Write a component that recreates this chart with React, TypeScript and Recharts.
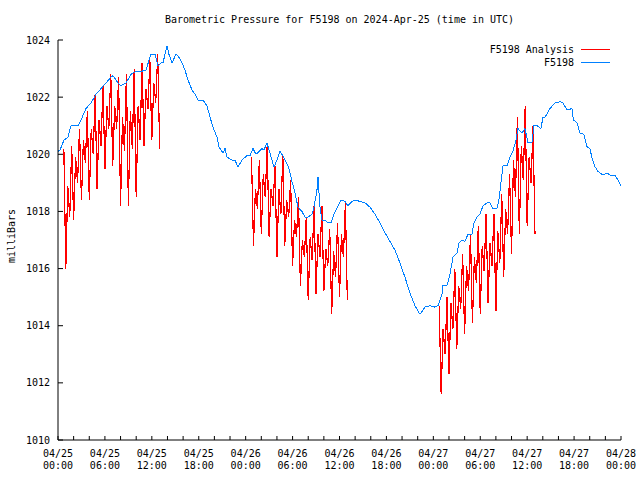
import { LineChart, Line, XAxis, YAxis } from 'recharts';

const FONT = '"DejaVu Sans Mono", monospace';
const RED = '#ff0000';
const BLUE = '#0080ff';

// hours since 04/25 00:00 UTC
const blueHours = [
  0, 0.26, 0.77, 1.28, 1.66, 2.56, 2.94, 3.58, 4.22, 4.86, 5.5, 6.14, 6.78, 7.03, 7.67, 8.06, 8.7,
  9.34, 9.97, 10.61, 11.25, 11.89, 12.4, 12.79, 13.17, 13.43, 13.94, 14.19, 14.58, 15.09, 15.35,
  15.86, 16.24, 16.62, 17.14, 17.52, 17.9, 18.54, 19.05, 19.44, 19.82, 20.33, 20.59, 21.1, 21.36,
  21.61, 22.25, 22.63, 23.02, 23.53, 24.17, 24.55, 24.94, 25.32, 25.7, 26.09, 26.34, 26.73, 26.98,
  27.37, 27.62, 28.01, 28.39, 28.64, 29.03, 29.41, 29.67, 29.92, 30.31, 30.69, 31.2, 31.59, 31.97,
  32.48, 32.74, 33.12, 33.25, 33.5, 33.76, 34.14, 34.53, 34.91, 35.29, 35.81, 36.19, 36.7, 37.08,
  37.6, 37.98, 39.26, 39.9, 40.54, 41.18, 41.82, 43.09, 43.73, 44.37, 45.01, 45.65, 46.29, 46.93,
  47.57, 48.21, 48.59, 49.1, 49.23, 49.74, 50.13, 50.51, 51.02, 51.28, 51.66, 52.05, 52.43, 52.94,
  53.2, 53.58, 53.96, 54.35, 54.86, 55.24, 55.63, 56.14, 56.39, 56.65, 56.91, 57.42, 57.8, 58.18,
  58.57, 58.82, 59.34, 59.72, 60.1, 60.61, 60.87, 61.25, 61.76, 62.02, 62.28, 62.92, 63.55, 64.19,
  64.58, 65.09, 65.73, 65.92, 66.37, 66.75, 67.26, 67.65, 68.03, 68.29, 68.67, 69.05, 69.69, 70.2,
  70.59, 71.23, 71.61, 72,
];
const blueMbar = [
  1020.1, 1020.15, 1020.5, 1020.6, 1021.0, 1021.0, 1021.2, 1021.6, 1021.8, 1022.1, 1022.3, 1022.5,
  1022.7, 1022.75, 1022.5, 1022.4, 1022.5, 1022.8, 1022.9, 1022.9, 1022.95, 1023.5, 1023.5, 1023.1,
  1023.2, 1023.2, 1023.8, 1023.5, 1023.2, 1023.5, 1023.45, 1023.2, 1022.95, 1022.6, 1022.25,
  1022.1, 1021.9, 1021.9, 1021.7, 1021.3, 1020.95, 1020.6, 1020.25, 1020.05, 1020.2, 1019.9,
  1019.8, 1019.8, 1019.55, 1019.8, 1019.95, 1019.95, 1020.2, 1020.0, 1020.1, 1020.2, 1020.15,
  1020.4, 1020.15, 1019.8, 1019.55, 1019.8, 1020.1, 1020.0, 1019.8, 1019.6, 1019.35, 1019.05,
  1018.65, 1018.15, 1018.0, 1017.8, 1017.8, 1017.9, 1018.15, 1018.75, 1019.2, 1018.15, 1017.7,
  1017.7, 1017.6, 1017.6, 1017.9, 1018.2, 1018.4, 1018.35, 1018.2, 1018.35, 1018.4, 1018.3,
  1018.15, 1017.9, 1017.6, 1017.25, 1016.65, 1016.2, 1015.7, 1015.15, 1014.7, 1014.4, 1014.65,
  1014.7, 1014.65, 1014.7, 1015.1, 1015.4, 1015.4, 1015.8, 1016.4, 1016.55, 1016.9, 1017.0,
  1016.95, 1017.2, 1017.2, 1017.6, 1017.8, 1017.9, 1018.2, 1018.3, 1018.3, 1018.1, 1018.1, 1018.4,
  1019.0, 1019.6, 1019.6, 1019.9, 1020.1, 1020.5, 1020.9, 1020.75, 1020.9, 1020.4, 1020.4, 1021.0,
  1021.0, 1020.9, 1021.3, 1021.3, 1021.6, 1021.8, 1021.84, 1021.8, 1021.55, 1021.6, 1021.2,
  1021.1, 1020.75, 1020.7, 1020.27, 1020.2, 1019.87, 1019.57, 1019.4, 1019.27, 1019.35, 1019.27,
  1019.27, 1019.1, 1018.9,
];

// analysis runs, one value every 15 minutes from the start hour
const runStartHours = [0.75, 24.75, 48.75];
const run1 = [
  1020.2,
  1016.0, 1018.9, 1017.8, 1020.3,
  1017.7, 1019.9, 1019.0, 1020.9,
  1018.4, 1020.5, 1019.7, 1021.5,
  1018.4, 1020.9, 1020.0, 1022.1,
  1018.8, 1021.2, 1020.3, 1022.4,
  1019.5, 1021.7, 1020.9, 1022.8,
  1019.6, 1021.7, 1020.9, 1022.7,
  1018.2, 1021.3, 1020.1, 1022.8,
  1018.2, 1021.5, 1020.2, 1023.0,
  1018.5, 1021.7, 1020.5, 1023.2,
  1020.3, 1022.3, 1021.6, 1023.3,
  1020.5, 1022.5, 1021.8, 1023.5,
  1020.2,
];
const run2 = [
  1019.9,
  1016.8, 1018.8, 1018.1, 1019.8,
  1017.2, 1019.3, 1018.5, 1020.3,
  1017.1, 1018.8, 1018.2, 1019.6,
  1016.4, 1018.8, 1017.9, 1020.0,
  1016.8, 1018.4, 1017.8, 1019.1,
  1016.1, 1017.7, 1017.1, 1018.5,
  1015.4, 1017.0, 1016.4, 1017.8,
  1014.9, 1017.1, 1016.3, 1018.2,
  1015.1, 1017.2, 1016.4, 1018.2,
  1015.2, 1016.7, 1016.1, 1017.4,
  1014.4, 1016.6, 1015.7, 1017.6,
  1015.0, 1017.2, 1016.4, 1018.3,
  1014.9,
];
const run3 = [
  1014.7,
  1011.6, 1013.9, 1013.0, 1015.0,
  1012.3, 1014.8, 1013.9, 1016.0,
  1013.2, 1015.4, 1014.6, 1016.5,
  1013.7, 1016.1, 1015.2, 1017.2,
  1014.1, 1016.4, 1015.5, 1017.5,
  1014.4, 1016.8, 1015.9, 1017.9,
  1014.8, 1016.9, 1016.1, 1017.9,
  1014.5, 1017.3, 1016.2, 1018.6,
  1015.7, 1018.1, 1017.2, 1019.3,
  1016.5, 1019.8, 1018.5, 1021.3,
  1017.2, 1020.3, 1019.1, 1021.7,
  1017.5, 1019.9, 1019.0, 1021.0,
  1017.2,
];
const runs = [run1, run2, run3];

const hourTicks = Array.from({ length: 37 }, (_, i) => i * 2);
const majorHours = [0, 6, 12, 18, 24, 30, 36, 42, 48, 54, 60, 66, 72];
const dateLabels = ['04/25', '04/25', '04/25', '04/25', '04/26', '04/26', '04/26', '04/26', '04/27', '04/27', '04/27', '04/27', '04/28'];
const timeLabels = ['00:00', '06:00', '12:00', '18:00', '00:00', '06:00', '12:00', '18:00', '00:00', '06:00', '12:00', '18:00', '00:00'];
const mbarTicks = [1010, 1012, 1014, 1016, 1018, 1020, 1022, 1024];

const blueData = blueHours.map((t, i) => ({ t, v: blueMbar[i] }));
const analysisData = runs.flatMap((vals, r) => [
  ...vals.map((v, i) => ({ t: runStartHours[r] + i / 4, v })),
  { t: runStartHours[r] + vals.length / 4, v: null },
]);

function BottomTick(props: any) {
  const { x, y, payload } = props;
  const i = majorHours.indexOf(payload.value);
  return (
    <g>
      <line x1={x} y1={y} x2={x} y2={y - 4} stroke="#000" />
      {i >= 0 && (
        <text x={x} y={y + 17} textAnchor="middle" fontSize={10} fontFamily={FONT} fill="#000">
          {dateLabels[i]}
        </text>
      )}
      {i >= 0 && (
        <text x={x} y={y + 29} textAnchor="middle" fontSize={10} fontFamily={FONT} fill="#000">
          {timeLabels[i]}
        </text>
      )}
    </g>
  );
}

function TopTick(props: any) {
  const { x, y } = props;
  return <line x1={x} y1={y} x2={x} y2={y + 4} stroke="#000" />;
}

function LeftTick(props: any) {
  const { x, y, payload } = props;
  return (
    <g>
      <line x1={x} y1={y} x2={x + 5} y2={y} stroke="#000" />
      <text x={x - 8} y={y + 3.5} textAnchor="end" fontSize={10} fontFamily={FONT} fill="#000">
        {payload.value}
      </text>
    </g>
  );
}

function RightTick(props: any) {
  const { x, y } = props;
  return <line x1={x} y1={y} x2={x - 5} y2={y} stroke="#000" />;
}

export default function App() {
  return (
    <div style={{ position: 'absolute', left: 0, top: 0, width: 640, height: 480, background: '#fff', fontFamily: FONT, fontSize: 10 }}>
      <div style={{ position: 'absolute', left: 58, width: 563, top: 14, lineHeight: '12px', textAlign: 'center' }}>
        Barometric Pressure for F5198 on 2024-Apr-25 (time in UTC)
      </div>
      <div style={{ position: 'absolute', left: 11, top: 236, transform: 'translate(-50%, -50%) rotate(-90deg)', whiteSpace: 'nowrap' }}>
        milliBars
      </div>
      <LineChart width={640} height={480} margin={{ top: 40, right: 19, bottom: 0, left: 0 }}>
        <XAxis xAxisId="b" dataKey="t" type="number" domain={[0, 72]} ticks={hourTicks} interval={0}
          height={40} tickSize={0} tickMargin={0} tickLine={false} axisLine={{ stroke: '#000' }}
          tick={(p: any) => <BottomTick {...p} />} allowDataOverflow />
        <XAxis xAxisId="t" orientation="top" dataKey="t" type="number" domain={[0, 72]} ticks={hourTicks} interval={0}
          height={0} tickSize={0} tickMargin={0} tickLine={false} axisLine={{ stroke: '#000' }}
          tick={(p: any) => <TopTick {...p} />} allowDataOverflow />
        <YAxis yAxisId="l" type="number" domain={[1010, 1024]} ticks={mbarTicks} interval={0} width={58}
          tickSize={0} tickMargin={0} tickLine={false} axisLine={{ stroke: '#000' }}
          tick={(p: any) => <LeftTick {...p} />} allowDataOverflow />
        <YAxis yAxisId="r" orientation="right" type="number" domain={[1010, 1024]} ticks={mbarTicks} interval={0} width={0}
          tickSize={0} tickMargin={0} tickLine={false} axisLine={{ stroke: '#000' }}
          tick={(p: any) => <RightTick {...p} />} allowDataOverflow />
        <Line xAxisId="b" yAxisId="l" data={analysisData} dataKey="v" type="linear" stroke={RED} strokeWidth={1.2}
          dot={false} activeDot={false} isAnimationActive={false} connectNulls={false} shapeRendering="crispEdges" />
        <Line xAxisId="b" yAxisId="l" data={blueData} dataKey="v" type="linear" stroke={BLUE} strokeWidth={1}
          dot={false} activeDot={false} isAnimationActive={false} shapeRendering="crispEdges" />
      </LineChart>
      <div style={{ position: 'absolute', right: 640 - 574, top: 44, lineHeight: '12.5px', textAlign: 'right', whiteSpace: 'nowrap' }}>
        <div>F5198 Analysis</div>
        <div>F5198</div>
      </div>
      <div style={{ position: 'absolute', left: 581, width: 29, top: 49, height: 1, background: RED }} />
      <div style={{ position: 'absolute', left: 581, width: 29, top: 62, height: 1, background: BLUE }} />
    </div>
  );
}
